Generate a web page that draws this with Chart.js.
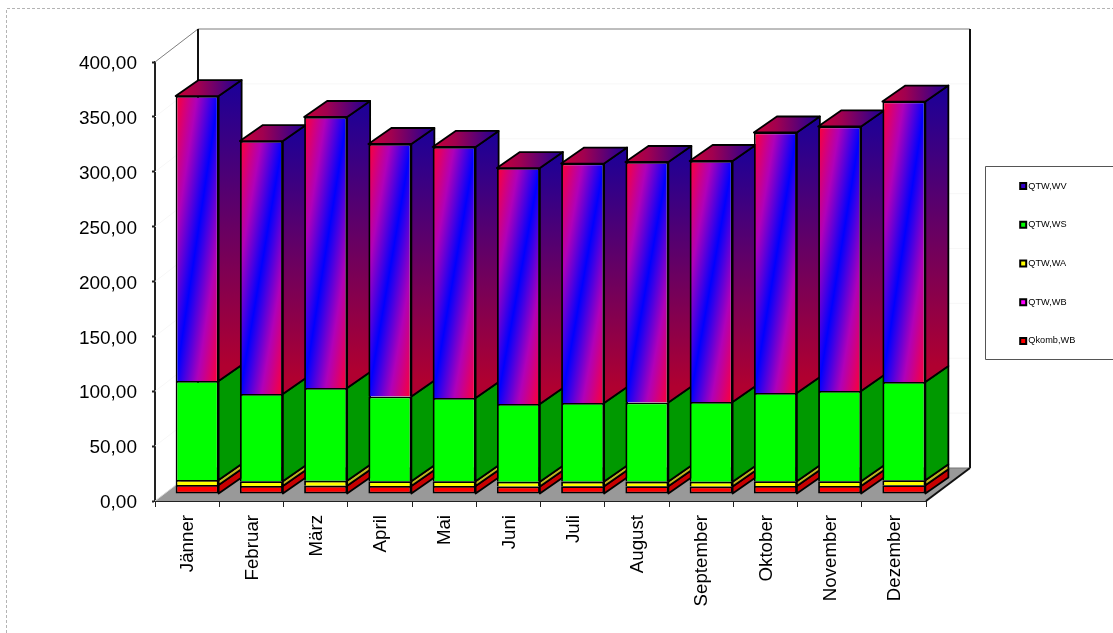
<!DOCTYPE html>
<html><head><meta charset="utf-8">
<script src="https://cdn.jsdelivr.net/npm/chart.js@4/dist/chart.umd.min.js"></script>
<style>html,body{margin:0;padding:0;background:#fff}canvas{display:block}</style>
</head><body>
<canvas id="c" width="1113" height="633"></canvas>
<script>
const months = ['Jänner','Februar','März','April','Mai','Juni','Juli','August','September','Oktober','November','Dezember'];
const qkombWB = [8.2,7.3,7.6,7.3,7.3,6.8,7.0,7.0,6.8,7.3,7.3,8.0];
const qtwWB   = [0,0,0,0,0,0,0,0,0,0,0,0];
const qtwWA   = [4.5,4.3,4.5,4.3,4.3,4.4,4.3,4.3,4.4,4.3,4.3,4.5];
const qtwWS   = [90.3,79.5,84.5,77.2,75.9,70.8,71.6,72.1,72.6,80.4,82.2,89.5];
const qtwWV   = [259.6,230.5,246.9,230.1,228.7,215.0,218.2,219.1,219.6,237.4,241.1,255.6];
const yTicks  = [0,50,100,150,200,250,300,350,400];

const FONT = '"Liberation Sans", Arial, sans-serif';
const WALL = {dx:43, dxRight:44, dy:33};  // depth of the whole 3D box
const SHIFT = {dx:10, dy:7};              // bars stand this far inside the floor
const BAR = {dx:23, dy:16};               // depth of one bar
const BORDER = 1.8;

function blueFront(ctx){
  const c = ctx.chart, sx = c.scales.x, sy = c.scales.y;
  if(!sx || !sy || ctx.dataIndex === undefined) return '#3300cc';
  const i = ctx.dataIndex;
  const lo = qkombWB[i]+qtwWB[i]+qtwWA[i]+qtwWS[i];
  const top = sy.getPixelForValue(lo+qtwWV[i]), bot = sy.getPixelForValue(lo);
  const w = sx.width/months.length*0.669, h = bot-top;
  const l = sx.getPixelForValue(i)-w/2, L = Math.hypot(w,h);
  const d = 2*w*h/L;
  const g = c.ctx.createLinearGradient(l,top,l+h/L*d,top+w/L*d);
  g.addColorStop(0,'#ff0033'); g.addColorStop(0.25,'#b000b8'); g.addColorStop(0.5,'#0000ff');
  g.addColorStop(0.75,'#b000b8'); g.addColorStop(1,'#ff0033');
  return g;
}

function quad(ctx,pts,fill){
  ctx.beginPath();
  pts.forEach((p,i)=> i?ctx.lineTo(p[0],p[1]):ctx.moveTo(p[0],p[1]));
  ctx.closePath();
  ctx.fillStyle = fill; ctx.fill();
  ctx.lineWidth = BORDER; ctx.strokeStyle = '#000'; ctx.lineJoin='round'; ctx.stroke();
}
function seg(ctx,x0,y0,x1,y1,color,w){
  ctx.beginPath(); ctx.moveTo(x0,y0); ctx.lineTo(x1,y1);
  ctx.strokeStyle=color; ctx.lineWidth=w; ctx.stroke();
}

const box3d = {
  id:'box3d',
  afterLayout(chart){
    const lg = chart.legend;
    if(lg){ lg.left = 993.2; lg.right = lg.left+lg.width; lg.top = 152; lg.bottom = lg.top+lg.height; }
  },
  beforeDraw(chart){
    const ctx = chart.ctx;
    ctx.save();
    ctx.setLineDash([3,2]);
    ctx.strokeStyle='#b4b4b4'; ctx.lineWidth=1;
    ctx.beginPath(); ctx.moveTo(6.5,633); ctx.lineTo(6.5,8.5); ctx.lineTo(1113,8.5); ctx.stroke();
    ctx.setLineDash([]);
    ctx.strokeStyle='#555'; ctx.lineWidth=1;
    ctx.beginPath(); ctx.moveTo(1113,166.5); ctx.lineTo(985.5,166.5); ctx.lineTo(985.5,359.5); ctx.lineTo(1113,359.5); ctx.stroke();
    ctx.restore();
  },
  beforeDatasetsDraw(chart){
    const ctx = chart.ctx, a = chart.chartArea, sy = chart.scales.y;
    const bx = a.left+WALL.dx, by = a.bottom-WALL.dy, tx = a.right+WALL.dxRight, ty = a.top-WALL.dy;
    ctx.save();
    // floor
    ctx.beginPath();
    ctx.moveTo(a.left,a.bottom); ctx.lineTo(a.right,a.bottom); ctx.lineTo(tx,by); ctx.lineTo(bx,by); ctx.closePath();
    ctx.fillStyle='#999999'; ctx.fill();
    // faint wall grid
    yTicks.forEach(v=>{
      if(v===0) return;
      const y = sy.getPixelForValue(v);
      seg(ctx,a.left,y,bx,y-WALL.dy,'#f7f7f7',1);
      seg(ctx,bx,y-WALL.dy,tx,y-WALL.dy,'#f7f7f7',1);
    });
    // wall edges
    seg(ctx,a.left,a.top,bx,ty,'#808080',1);
    seg(ctx,bx,ty,tx,ty,'#808080',1);
    seg(ctx,a.left,a.bottom,bx,by,'#d8d8d8',1);
    seg(ctx,bx,ty,bx,by,'#111',2);
    seg(ctx,tx,ty,tx,by,'#111',2);
    seg(ctx,bx,by,tx,by,'#777',1);
    seg(ctx,a.right,a.bottom,tx,by,'#111',2);
    ctx.restore();

    // bars: sides and tops read from the library's bar elements
    ctx.save();
    ctx.translate(SHIFT.dx,-SHIFT.dy);
    const sideCols = ['#c80000',null,'#bdb51f','#009900',null];
    const n = chart.data.datasets.length;
    months.forEach((m,i)=>{
      for(let d=0;d<n;d++){
        const el = chart.getDatasetMeta(d).data[i];
        if(!el || Math.abs(el.base-el.y)<0.01) continue;
        const r = el.x+el.width/2, l = el.x-el.width/2;
        let fill = sideCols[d];
        if(d===n-1){
          fill = ctx.createLinearGradient(0,el.y-BAR.dy,0,el.base-BAR.dy);
          fill.addColorStop(0,'#1a0099'); fill.addColorStop(1,'#b00030');
        }
        quad(ctx,[[r,el.y],[r+BAR.dx,el.y-BAR.dy],[r+BAR.dx,el.base-BAR.dy],[r,el.base]],fill);
        if(d===n-1){
          const t = ctx.createLinearGradient(l,0,r+BAR.dx,0);
          t.addColorStop(0,'#c80035'); t.addColorStop(0.35,'#a00050'); t.addColorStop(1,'#1a0099');
          quad(ctx,[[l,el.y],[l+BAR.dx,el.y-BAR.dy],[r+BAR.dx,el.y-BAR.dy],[r,el.y]],t);
        }
      }
    });
    // the library then draws the front faces inside this same shift
  },
  afterDatasetsDraw(chart){ chart.ctx.restore(); }
};

const legendFill = ['#ff0000','#ff00ff','#ffff00','#00ff00','#3300cc'];
const common = {borderColor:'#000',borderSkipped:false,barPercentage:0.669,categoryPercentage:1,clip:false};
const upperBorder = {top:BORDER,left:BORDER,right:BORDER,bottom:0};

const chart = new Chart(document.getElementById('c'),{
  type:'bar',
  data:{labels:months,datasets:[
    {label:'Qkomb,WB',data:qkombWB,backgroundColor:'#ff0000',borderWidth:BORDER,...common},
    {label:'QTW,WB',data:qtwWB,backgroundColor:'#ff00ff',borderWidth:0,...common},
    {label:'QTW,WA',data:qtwWA,backgroundColor:'#ffff00',borderWidth:upperBorder,...common},
    {label:'QTW,WS',data:qtwWS,backgroundColor:'#00ff00',borderWidth:upperBorder,...common},
    {label:'QTW,WV',data:qtwWV,backgroundColor:blueFront,borderWidth:upperBorder,...common}
  ]},
  plugins:[box3d],
  options:{
    responsive:false,animation:false,
    layout:{autoPadding:false,padding:{left:0,right:187,top:62,bottom:0}},
    plugins:{
      title:{display:false},tooltip:{enabled:false},
      legend:{
        display:true,position:'right',align:'start',reverse:true,
        labels:{
          boxWidth:1,boxHeight:6,usePointStyle:true,pointStyle:'rect',padding:29.5,color:'#000',
          font:{family:FONT,size:9.2},
          generateLabels:ch=>ch.data.datasets.map((ds,i)=>({
            text:ds.label,fillStyle:legendFill[i],strokeStyle:'#000',lineWidth:2,
            pointStyle:'rect',datasetIndex:i,hidden:false,fontColor:'#000'
          }))
        }
      }
    },
    scales:{
      x:{
        stacked:true,
        afterFit:s=>{s.height=132;},
        border:{color:'#222',width:2},
        grid:{drawOnChartArea:false,tickColor:'#222',tickLength:6,tickWidth:1,offset:true},
        ticks:{autoSkip:false,maxRotation:90,minRotation:90,padding:8,labelOffset:1,color:'#000',font:{family:FONT,size:18.7}}
      },
      y:{
        stacked:true,min:0,max:400,
        afterFit:s=>{s.width=155;},
        border:{color:'#222',width:2},
        grid:{drawOnChartArea:false,tickColor:'#222',tickLength:3,tickWidth:2},
        afterBuildTicks:s=>{s.ticks=yTicks.map(v=>({value:v}));},
        ticks:{padding:15,labelOffset:2,color:'#000',font:{family:FONT,size:19},
          callback:v=>v.toFixed(2).replace('.',',')}
      }
    }
  }
});
chart.options.layout.padding.right = 187-chart.legend.width;
chart.update('none');
</script>
</body></html>
